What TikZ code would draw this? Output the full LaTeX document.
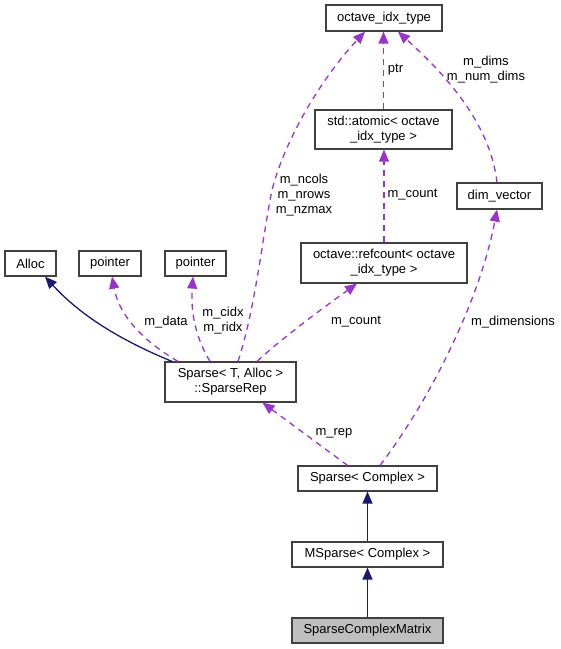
\documentclass[tikz,border=0pt]{standalone}
\usepackage{fontspec}
\setmainfont{Liberation Sans}
\usetikzlibrary{arrows.meta}
\definecolor{usagec}{HTML}{9A32CD}
\definecolor{inhc}{HTML}{191970}
\definecolor{boxc}{HTML}{404040}
\definecolor{fillc}{HTML}{BFBFBF}
\tikzset{
  cls/.style={draw=boxc, line width=1.2pt, rectangle, inner sep=0pt, align=center, font=\fontsize{13}{15}\selectfont},
  lbl/.style={inner sep=0pt, align=center, font=\fontsize{13}{15}\selectfont},
  usage/.style={draw=usagec, line width=1.3pt, dash pattern=on 6pt off 5pt, -{Triangle[length=12pt,width=10pt,fill=usagec]}},
  inherit/.style={draw=inhc, line width=1.3pt, -{Triangle[length=12pt,width=10pt,fill=inhc]}}
}
\begin{document}
\begin{tikzpicture}[x=1pt,y=-1pt]
\useasboundingbox (0,0) rectangle (561,649);
% nodes
\node[cls, minimum width=116pt, minimum height=26pt] (idx) at (384,18) {octave\_idx\_type};
\node[cls, minimum width=137pt, minimum height=39pt] (atomic) at (383.5,129.5) {std::atomic< octave\\\_idx\_type >};
\node[cls, minimum width=166pt, minimum height=40pt] (refcount) at (384,263) {octave::refcount< octave\\\_idx\_type >};
\node[cls, minimum width=85pt, minimum height=26pt] (dimv) at (499.5,196) {dim\_vector};
\node[cls, minimum width=51pt, minimum height=25pt] (alloc) at (30.5,263.5) {Alloc};
\node[cls, minimum width=62pt, minimum height=25pt] (ptra) at (110,263.5) {pointer};
\node[cls, minimum width=61pt, minimum height=25pt] (ptrb) at (195.5,263.5) {pointer};
\node[cls, minimum width=131pt, minimum height=40pt] (rep) at (230.5,382) {Sparse< T, Alloc >\\::SparseRep};
\node[cls, minimum width=139pt, minimum height=25pt] (sparse) at (367.5,478.5) {Sparse< Complex >};
\node[cls, minimum width=151pt, minimum height=25pt] (msparse) at (367.5,554.5) {MSparse< Complex >};
\node[cls, fill=fillc, minimum width=151pt, minimum height=25pt] (scm) at (367.5,630.5) {SparseComplexMatrix};
% inheritance
\draw[inherit] ([xshift=-58.5pt]rep.north) .. controls (120,340) and (80,315) .. ([xshift=14.5pt]alloc.south);
\draw[inherit] (msparse.north) -- (sparse.south);
\draw[inherit] (scm.north) -- (msparse.south);
% usage
\draw[usage] ([xshift=-52.5pt]rep.north) .. controls (150,345) and (120,320) .. ([xshift=2pt]ptra.south);
\draw[usage] ([xshift=-20.5pt]rep.north) .. controls (200,345) and (190,320) .. ([xshift=-2.5pt]ptrb.south);
\draw[usage] ([xshift=7.5pt]rep.north) .. controls (255,310) and (262,240) .. (272,190) .. controls (285,140) and (320,80) .. ([xshift=-19pt]idx.south);
\draw[usage] ([xshift=26.5pt]rep.north) .. controls (280,340) and (320,310) .. ([xshift=-27pt]refcount.south);
\draw[usage] ([xshift=-20pt]sparse.north) -- ([xshift=32pt]rep.south);
\draw[usage] ([xshift=12.5pt]sparse.north) .. controls (430,400) and (480,300) .. ([xshift=-2.5pt]dimv.south);
\draw[usage] ([xshift=-2.5pt]dimv.north) .. controls (490,120) and (440,70) .. ([xshift=14pt]idx.south);
\draw[usage] (atomic.north) -- (atomic.north |- idx.south);
\draw[usage] (refcount.north) -- (refcount.north |- atomic.south);
% labels
\node[lbl] (l1) at (395.5,70) {ptr};
\node[lbl] (l2) at (486,70) {m\_dims\\m\_num\_dims};
\node[lbl] (l3) at (304,195) {m\_ncols\\m\_nrows\\m\_nzmax};
\node[lbl] (l4) at (412.5,195) {m\_count};
\node[lbl] (l5) at (166,322) {m\_data};
\node[lbl] (l6) at (223,321) {m\_cidx\\m\_ridx};
\node[lbl] (l7) at (356,322) {m\_count};
\node[lbl] (l8) at (513,322) {m\_dimensions};
\node[lbl] (l9) at (334,433) {m\_rep};
\end{tikzpicture}
\end{document}
